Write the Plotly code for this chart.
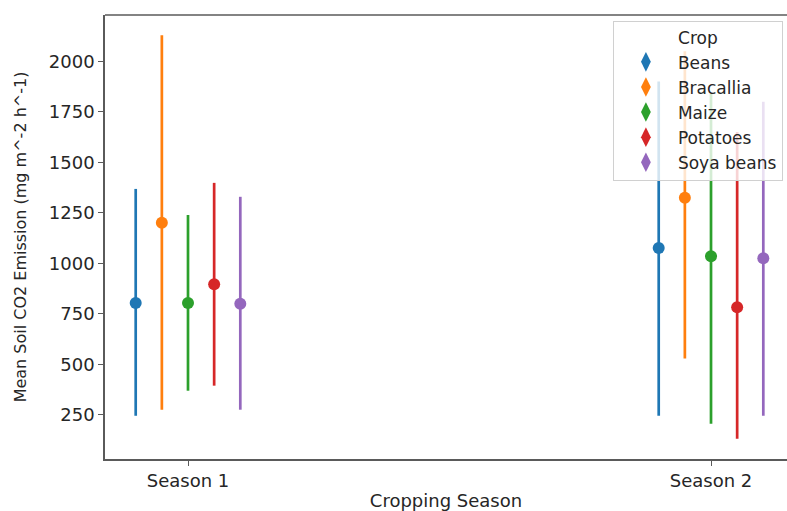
import plotly.graph_objects as go

# Mean soil CO2 emission per crop and season, with confidence interval bounds
seasons = ["Season 1", "Season 2"]
crops = ["Beans", "Bracallia", "Maize", "Potatoes", "Soya beans"]

beans_mean = [803, 1075]
beans_low = [245, 245]
beans_high = [1368, 1900]

bracallia_mean = [1200, 1324]
bracallia_low = [275, 528]
bracallia_high = [2129, 2050]

maize_mean = [803, 1035]
maize_low = [369, 205]
maize_high = [1239, 1840]

potatoes_mean = [896, 782]
potatoes_low = [394, 131]
potatoes_high = [1398, 1650]

soya_mean = [800, 1025]
soya_low = [275, 245]
soya_high = [1329, 1800]

y_ticks = [250, 500, 750, 1000, 1250, 1500, 1750, 2000]

colors = ["#1f77b4", "#ff7f0e", "#2ca02c", "#d62728", "#9467bd"]
series = [
    (beans_mean, beans_low, beans_high),
    (bracallia_mean, bracallia_low, bracallia_high),
    (maize_mean, maize_low, maize_high),
    (potatoes_mean, potatoes_low, potatoes_high),
    (soya_mean, soya_low, soya_high),
]

FONT = "DejaVu Sans"
TEXT = "#262626"
dodge = 0.05

fig = go.Figure()
n = len(crops)
for i, (name, color, (mean, low, high)) in enumerate(zip(crops, colors, series)):
    offset = (i - (n - 1) / 2) * dodge
    xs = [k + offset for k in range(len(seasons))]
    fig.add_trace(go.Scatter(
        x=xs, y=mean, mode="markers", name=name,
        showlegend=False,
        marker=dict(color=color, size=12, line=dict(width=0)),
        error_y=dict(type="data", symmetric=False,
                     array=[h - m for h, m in zip(high, mean)],
                     arrayminus=[m - l for m, l in zip(mean, low)],
                     color=color, thickness=2.7, width=0),
        hoverinfo="skip",
    ))
    # legend key: point with its interval line
    fig.add_trace(go.Scatter(
        x=[None], y=[None], mode="markers", name=name,
        marker=dict(color=color, symbol="diamond-tall", size=14, line=dict(width=0)),
    ))

axis_common = dict(
    showline=True, linecolor="#5a5a5a", linewidth=1.5, mirror=False,
    ticks="outside", ticklen=5, tickwidth=1.2, tickcolor="#5a5a5a",
    showgrid=False, zeroline=False,
    tickfont=dict(family=FONT, size=18, color=TEXT),
)

fig.update_layout(
    width=787, height=511,
    margin=dict(l=105, r=0, t=15, b=52),
    paper_bgcolor="white", plot_bgcolor="white",
    font=dict(family=FONT, color=TEXT),
    xaxis=dict(
        **axis_common,
        range=[-0.1587, 1.1453],
        tickmode="array", tickvals=list(range(len(seasons))), ticktext=seasons,
        title=dict(text="Cropping Season", font=dict(family=FONT, size=18, color=TEXT), standoff=7),
    ),
    yaxis=dict(
        **axis_common,
        range=[31, 2229],
        tickmode="array", tickvals=y_ticks,
        title=dict(text="Mean Soil CO2 Emission (mg m^-2 h^-1)",
                   font=dict(family=FONT, size=16, color=TEXT), standoff=18),
    ),
    legend=dict(
        title=dict(text="Crop", side="top center", font=dict(family=FONT, size=17, color=TEXT)),
        font=dict(family=FONT, size=17, color=TEXT),
        x=0.994, xanchor="right", y=0.986, yanchor="top",
        bgcolor="rgba(255,255,255,0.8)", bordercolor="#d0d0d0", borderwidth=1,
        itemwidth=54, tracegroupgap=0,
    ),
)

# top border of the axes frame
fig.add_shape(type="line", xref="paper", yref="paper", x0=0, x1=1, y0=1, y1=1,
              line=dict(color="#5a5a5a", width=1.5), layer="above")

fig.write_html("out.html")
